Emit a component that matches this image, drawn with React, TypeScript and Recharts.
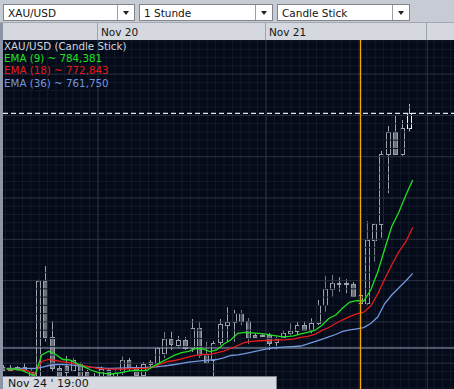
import { ComposedChart, Bar, Line, XAxis, YAxis, ReferenceLine } from "recharts";

// first candle = Nov 19, 10:00, one candle per hour
const firstHour = 10;

const opens = [
  739.16, 738.76, 739.08, 739.08, 737.94, 735.93, 759.9, 746.27, 738.76, 739.32,
  738.35, 739.73, 737.87, 736.9, 736.66, 738.35, 736.9, 737.87, 740.77, 739.08,
  737.02, 739.73, 739.97, 742.4, 745.79, 744.41, 745.62, 743.61, 748.45, 742.23,
  740.77, 744.96, 749.4, 749.9, 752.08, 750.29, 746.83, 746.71, 746.83, 744.96,
  746.42, 747.24, 747.87, 749.25, 747.99, 749.64, 754.09, 757.97, 759.35, 759.35,
  759.18, 754.65, 754.5, 769.66, 773.63, 790.58, 795.91, 790.58, 796.87,
];
const highs = [
  739.57, 739.57, 739.32, 739.98, 738.76, 760.22, 763.53, 750.22, 739.32, 741.74,
  741.26, 740.29, 738.35, 737.62, 739.2, 738.84, 738.35, 741.62, 741.26, 739.57,
  740.29, 740.77, 744.04, 747.56, 747.63, 746.59, 746.35, 750.7, 750.05, 745.21,
  745.38, 750.7, 753.54, 752.88, 752.88, 750.94, 747.24, 747.07, 747.31, 746.42,
  748.04, 749.64, 750.05, 750.05, 750.87, 755.3, 761.09, 761.35, 760.8, 760.32,
  759.66, 757.0, 774.43, 773.8, 791.38, 797.43, 799.85, 798.88, 802.76,
];
const lows = [
  738.11, 738.11, 738.23, 737.87, 736.42, 734.96, 745.21, 737.87, 735.45, 736.9,
  737.87, 735.93, 735.69, 735.45, 735.93, 736.17, 736.42, 737.14, 738.11, 736.66,
  736.66, 739.15, 739.32, 741.19, 743.2, 743.68, 743.2, 742.71, 741.26, 739.8,
  733.8, 744.41, 745.21, 745.21, 749.19, 744.65, 746.03, 746.35, 743.2, 743.37,
  746.03, 746.83, 746.83, 747.8, 747.24, 749.25, 752.47, 756.1, 757.31, 756.93,
  756.03, 754.28, 754.03, 764.61, 770.39, 781.14, 790.41, 790.24, 796.05,
];
const closes = [
  738.35, 738.35, 738.59, 738.47, 736.9, 759.9, 746.27, 738.76, 736.66, 737.87,
  740.77, 736.73, 736.42, 736.17, 738.59, 736.9, 737.62, 740.77, 738.76, 737.14,
  739.73, 740.21, 743.61, 745.79, 744.53, 745.62, 743.68, 748.45, 741.99, 740.36,
  744.96, 749.4, 750.05, 752.08, 750.05, 746.42, 746.27, 746.83, 744.82, 745.79,
  747.39, 747.8, 749.25, 748.15, 749.64, 754.09, 757.97, 759.35, 759.28, 759.28,
  756.27, 756.51, 769.83, 773.63, 790.65, 795.91, 790.58, 796.87, 800.51,
];

const ema9 = [
  738.59, 738.59, 738.35, 737.62, 736.9, 741.99, 742.88, 742.11, 740.89, 740.77,
  739.97, 739.15, 738.35, 737.79, 737.55, 737.38, 737.62, 737.94, 738.28, 738.18,
  738.23, 739.32, 740.21, 741.08, 741.94, 742.55, 742.84, 743.56, 743.44, 742.79,
  743.2, 744.65, 745.62, 747.24, 747.48, 747.36, 747.24, 747.02, 746.71, 746.47,
  746.42, 746.59, 747.07, 747.48, 747.92, 749.13, 750.82, 751.67, 753.36, 754.82,
  755.13, 755.06, 757.72, 762.08, 767.65, 773.1, 776.49, 780.6, 784.38,
];
const ema18 = [
  738.47, 738.47, 738.47, 738.11, 737.38, 740.41, 740.94, 740.65, 740.33, 740.12,
  739.8, 739.39, 739.03, 738.76, 738.64, 738.57, 738.55, 738.59, 738.67, 738.72,
  738.76, 739.08, 739.8, 740.41, 740.65, 741.06, 741.5, 741.91, 742.15, 742.15,
  742.47, 742.95, 743.56, 744.29, 745.01, 745.3, 745.43, 745.5, 745.57, 745.62,
  745.69, 745.81, 746.23, 746.47, 746.95, 747.87, 748.64, 749.61, 750.51, 751.26,
  751.96, 752.35, 753.85, 756.76, 760.38, 763.77, 766.93, 769.35, 772.84,
];
const ema36 = [
  738.76, 738.76, 738.76, 738.76, 738.72, 739.01, 739.44, 739.68, 739.68, 739.61,
  739.44, 739.22, 739.03, 738.91, 738.79, 738.76, 738.79, 738.84, 738.89, 738.93,
  738.98, 739.08, 739.25, 739.44, 739.68, 739.97, 740.24, 740.46, 740.6, 740.75,
  740.89, 741.26, 741.86, 742.03, 742.3, 742.66, 743.07, 743.39, 743.68, 743.85,
  743.97, 744.04, 744.16, 744.65, 745.21, 745.79, 746.35, 746.95, 747.68, 748.09,
  748.33, 748.6, 749.61, 751.19, 754.45, 756.51, 758.21, 759.9, 761.75,
];

const dayTicks = [24, 48, 71.06];
const dayLabels = ["Nov 20", "Nov 21", ""];
const lastPrice = 800.51;
const crosshairPrice = 743.68;
const crosshairHour = 61.5;
const crosshairLabel = "Nov 24 ' 19:00";
const toolbarItems = ["XAU/USD", "1 Stunde", "Candle Stick"];
const legendTitle = "XAU/USD (Candle Stick)";
const emaLegend = [
  { label: "EMA (9) ~ 784,381", key: "ema9", color: "#1fe11f" },
  { label: "EMA (18) ~ 772,843", key: "ema18", color: "#e81a1a" },
  { label: "EMA (36) ~ 761,750", key: "ema36", color: "#7397dc" },
];

const xDomain = [10.4286, 74.8571];
const yDomain = [733.75, 818.26];
const emaShift = 0.46;

const candles = opens.map((open, i) => ({
  hour: firstHour + i + 0.5,
  open,
  high: highs[i],
  low: lows[i],
  close: closes[i],
  range: [lows[i], highs[i]],
  live: i === opens.length - 1,
}));

const emaPoints = ema9.map((v, i) => ({
  hour: firstHour + i + 0.5 + emaShift,
  ema9: v,
  ema18: ema18[i],
  ema36: ema36[i],
}));

const minorPrices: number[] = [];
for (let p = 734; p <= 818; p += 2) if (p % 10 !== 0) minorPrices.push(p);
const majorPrices = [740, 750, 760, 770, 780, 790, 800, 810];
const minorHours: number[] = [];
for (let k = -11; k <= 42; k++) minorHours.push(24 + k * 1.2);

const BG = "#050a18";

function CandleShape(props: any) {
  const { x, y, width, height, payload } = props;
  if (!payload) return null;
  const { open, close, high, low, live } = payload;
  const cx = Math.round(x + width / 2 - 0.5) + 0.5;
  const ratio = high > low ? height / (high - low) : 0;
  const yOf = (v: number) => y + (high - v) * ratio;
  const top = yOf(Math.max(open, close));
  const bottom = yOf(Math.min(open, close));
  const up = close >= open;
  const stroke = live ? "#f4f6fa" : "#9da2ac";
  const bTop = Math.round(top) + 0.5;
  const bH = Math.max(1, Math.round(bottom - top));
  return (
    <g>
      <line x1={cx} x2={cx} y1={y} y2={y + height} stroke={stroke} strokeWidth={1} />
      <rect
        x={cx - 2}
        y={bTop}
        width={4}
        height={bH}
        fill={up ? BG : "#6b6f78"}
        stroke={stroke}
        strokeWidth={1}
      />
    </g>
  );
}

function DayTick(props: any) {
  const { x, payload } = props;
  const label = dayLabels[dayTicks.indexOf(payload.value)];
  const lx = Math.round(x) - 0.5;
  return (
    <g>
      <line x1={lx} x2={lx} y1={0} y2={17} stroke="#9ea2ab" />
      <text x={lx + 3.4} y={12.7} fontSize={10.5} fill="#141414" fontFamily="DejaVu Sans">
        {label}
      </text>
    </g>
  );
}

function Dropdown({ left, width, text }: { left: number; width: number; text: string }) {
  return (
    <div
      style={{
        position: "absolute",
        left,
        top: 4,
        width,
        height: 17,
        boxSizing: "border-box",
        background: "#fff",
        border: "1px solid #80848c",
      }}
    >
      <span style={{ position: "absolute", left: 4, top: 1, fontSize: 10.5, lineHeight: "14px", color: "#141414", whiteSpace: "nowrap" }}>
        {text}
      </span>
      <div style={{ position: "absolute", right: 0, top: 0, width: 16, height: 15, borderLeft: "1px solid #9a9ea6" }}>
        <div
          style={{
            position: "absolute",
            left: 5,
            top: 6,
            width: 0,
            height: 0,
            borderLeft: "3px solid transparent",
            borderRight: "3px solid transparent",
            borderTop: "4px solid #222",
          }}
        />
      </div>
    </div>
  );
}

export default function App() {
  return (
    <div
      style={{
        position: "relative",
        width: 454,
        height: 389,
        overflow: "hidden",
        background: "#c7cbd3",
        fontFamily: "'DejaVu Sans', sans-serif",
      }}
    >
      <style>{"body{margin:0}"}</style>

      <Dropdown left={3} width={132} text={toolbarItems[0]} />
      <Dropdown left={139} width={134} text={toolbarItems[1]} />
      <Dropdown left={277} width={133} text={toolbarItems[2]} />
      <div style={{ position: "absolute", left: 0, top: 22, width: 454, height: 1, background: "#a3a7af" }} />
      <div style={{ position: "absolute", left: 0, top: 23, width: 454, height: 17, background: "#d5d8de" }} />
      <div style={{ position: "absolute", left: 0, top: 23, width: 3, height: 366, background: "#8d94a5" }} />
      <div style={{ position: "absolute", left: 3, top: 40, width: 451, height: 349, background: BG }} />

      <div style={{ position: "absolute", left: 0, top: 23 }}>
        <ComposedChart width={454} height={366} data={candles} margin={{ top: 0, right: 0, bottom: 0, left: 3 }}>
          <XAxis
            type="number"
            dataKey="hour"
            domain={xDomain}
            allowDataOverflow
            orientation="top"
            height={17}
            ticks={dayTicks}
            interval={0}
            axisLine={false}
            tickLine={false}
            tick={<DayTick />}
          />
          <YAxis type="number" domain={yDomain} allowDataOverflow hide />

          {minorPrices.map((p) => (
            <ReferenceLine key={"mp" + p} y={p} stroke="#121a2b" strokeWidth={1} />
          ))}
          {minorHours.map((h) => (
            <ReferenceLine key={"mh" + h} x={h} stroke="#121a2b" strokeWidth={1} />
          ))}
          {majorPrices.map((p) => (
            <ReferenceLine key={"Mp" + p} y={p} stroke="#2a3244" strokeWidth={1} />
          ))}
          {dayTicks.map((h) => (
            <ReferenceLine key={"Mh" + h} x={h} stroke="#2a3244" strokeWidth={1} />
          ))}

          <ReferenceLine y={lastPrice} stroke="#dfe7f2" strokeWidth={1.3} strokeDasharray="5 3" />
          <ReferenceLine y={crosshairPrice} stroke="#95a0b6" strokeWidth={1.2} />

          <Bar dataKey="range" barSize={5} shape={<CandleShape />} isAnimationActive={false} />

          {emaLegend
            .slice()
            .reverse()
            .map((e) => (
              <Line
                key={e.key}
                data={emaPoints}
                dataKey={e.key}
                stroke={e.color}
                strokeWidth={1.3}
                dot={false}
                type="linear"
                isAnimationActive={false}
              />
            ))}

          <ReferenceLine x={crosshairHour} stroke="#f5a800" strokeWidth={1.4} />
        </ComposedChart>
      </div>

      <div style={{ position: "absolute", left: 4, top: 39.5, fontSize: 10.3, lineHeight: "12.4px", whiteSpace: "nowrap" }}>
        <div style={{ color: "#d3d7df" }}>{legendTitle}</div>
        {emaLegend.map((e) => (
          <div key={e.key} style={{ color: e.color }}>
            {e.label}
          </div>
        ))}
      </div>

      <div
        style={{
          position: "absolute",
          left: 3,
          top: 376,
          width: 274,
          height: 13,
          boxSizing: "border-box",
          background: "#d6d9e0",
          borderTop: "1px solid #7d8190",
          borderRight: "1px solid #7d8190",
        }}
      >
        <span style={{ position: "absolute", left: 5, top: 1.8, fontSize: 11, lineHeight: "10px", color: "#141414", whiteSpace: "nowrap" }}>
          {crosshairLabel}
        </span>
      </div>
    </div>
  );
}
